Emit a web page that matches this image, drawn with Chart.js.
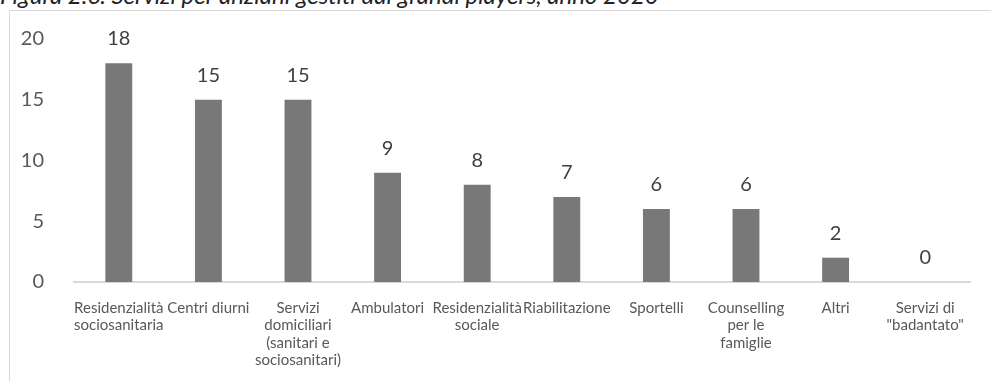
<!DOCTYPE html>
<html>
<head>
<meta charset="utf-8">
<script src="https://cdn.jsdelivr.net/npm/chart.js@4"></script>
<style>
  html, body { margin: 0; padding: 0; background: #fff; overflow: hidden; }
  #wrap { position: relative; width: 991px; height: 381px; }
  #title { position: absolute; left: 0; top: -17px; font: italic 24px Lato, sans-serif; line-height: 24px; color: #222; white-space: nowrap; }
  #frame { position: absolute; left: 9px; top: 10px; width: 990px; height: 380px; border-left: 1px solid #d9d9d9; border-top: 1px solid #d9d9d9; }
  canvas { position: absolute; left: 0; top: 0; }
</style>
</head>
<body>
<div id="wrap">
  <div id="title">Figura 2.6. Servizi per anziani gestiti dai grandi players, anno 2020</div>
  <div id="frame"></div>
  <canvas id="myChart" width="991" height="381"></canvas>
</div>
<script>
// categories (multi-line labels as in the original)
const categories = [
    ['Residenzialità', 'sociosanitaria'],
    'Centri diurni',
    ['Servizi', 'domiciliari', '(sanitari e', 'sociosanitari)'],
    'Ambulatori',
    ['Residenzialità', 'sociale'],
    'Riabilitazione',
    'Sportelli',
    ['Counselling', 'per le', 'famiglie'],
    'Altri',
    ['Servizi di', '"badantato"']
];
const values = [18, 15, 15, 9, 8, 7, 6, 6, 2, 0];
const yTicks = [0, 5, 10, 15, 20];

// draws the value above each bar
const valueLabels = {
    id: 'valueLabels',
    afterDatasetsDraw(chart) {
        const ctx = chart.ctx;
        const meta = chart.getDatasetMeta(0);
        ctx.save();
        ctx.font = '20px Lato, sans-serif';
        ctx.fillStyle = '#404040';
        ctx.textAlign = 'center';
        ctx.textBaseline = 'alphabetic';
        meta.data.forEach((bar, i) => {
            ctx.fillText(values[i], bar.x, bar.y - 18);
        });
        ctx.restore();
    }
};

var ctx = document.getElementById('myChart').getContext('2d');

var chart = new Chart(ctx, {
    type: 'bar',
    data: {
        labels: categories,
        datasets: [{
            data: values,
            backgroundColor: '#787878',
            barPercentage: 0.3,
            categoryPercentage: 1
        }]
    },
    options: {
        responsive: false,
        animation: false,
        layout: { padding: { top: 39, right: 21 } },
        plugins: {
            legend: { display: false },
            tooltip: { enabled: false }
        },
        scales: {
            x: {
                grid: { display: false },
                border: { display: true, color: '#d9d9d9', width: 2 },
                ticks: {
                    autoSkip: false,
                    maxRotation: 0,
                    minRotation: 0,
                    padding: 9,
                    color: '#595959',
                    font: { family: 'Lato, sans-serif', size: 15, lineHeight: 1.17 }
                },
                afterFit: (scale) => { scale.height = 99; }
            },
            y: {
                min: 0,
                max: 20,
                afterBuildTicks: (scale) => { scale.ticks = yTicks.map(v => ({ value: v })); },
                grid: { display: false },
                border: { display: false },
                ticks: {
                    padding: 22,
                    color: '#595959',
                    font: { family: 'Lato, sans-serif', size: 20 }
                },
                afterFit: (scale) => { scale.width = 74; }
            }
        }
    },
    plugins: [valueLabels]
});
</script>
</body>
</html>
